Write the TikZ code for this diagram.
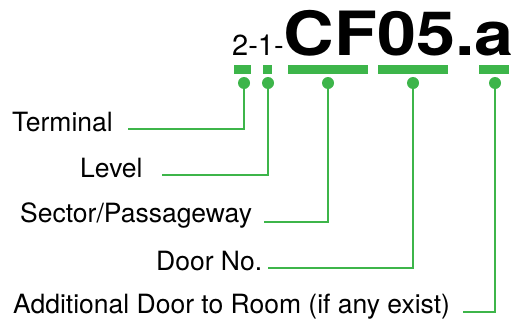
\documentclass[tikz,border=0pt]{standalone}
\usepackage{fontspec}
\setmainfont{TeX Gyre Heros}
\definecolor{tagGreen}{RGB}{61,181,74}
\begin{document}
\begin{tikzpicture}[x=1pt,y=-1pt]

    \tikzset{
      label/.style={
        anchor=base west,
        inner sep=0pt,
        font=\fontsize{26.5}{31}\selectfont,
      },
      bar/.style={
        fill=tagGreen,
        inner sep=0pt,
        minimum height=9pt,
      },
      pin/.style={
        circle,
        fill=tagGreen,
        inner sep=0pt,
        minimum size=12pt,
      },
      wire/.style={
        draw=tagGreen,
        line width=2pt,
      },
    }
    \useasboundingbox (0,0) rectangle (513,324);

	\node[anchor=base west, inner sep=0pt] (code) at (232,55)
	  {{\fontsize{29}{34}\selectfont 2-1-}{\fontsize{61}{70}\selectfont\bfseries\scalebox{1.15}[1]{CF05.a}}};

	\node[bar, minimum width=17pt] (barT) at (242.5,69.5) {};
	\node[bar, minimum width=9pt] (barL) at (267.5,69.5) {};
	\node[bar, minimum width=80pt] (barS) at (328,69.5) {};
	\node[bar, minimum width=70pt] (barD) at (413,69.5) {};
	\node[bar, minimum width=30pt] (barA) at (494,69.5) {};

	\node[pin] (pinT) at (244,83) {};
	\node[pin] (pinL) at (268,83) {};
	\node[pin] (pinS) at (328,83) {};
	\node[pin] (pinD) at (413,83) {};
	\node[pin] (pinA) at (495,83) {};

	\node[label] (terminal) at (12,131) {Terminal};
	\node[label] (level) at (80,177) {Level};
	\node[label] (sector) at (20,222) {Sector/Passageway};
	\node[label] (door) at (156,270) {Door No.};
	\node[label] (additional) at (13,313) {Additional Door to Room (if any exist)};

	\coordinate (endT) at (128,129);
	\coordinate (endL) at (162,175);
	\coordinate (endS) at (264,222);
	\coordinate (endD) at (268,268);
	\coordinate (endA) at (463,312);

	\draw[wire] (pinT) |- (endT);
	\draw[wire] (pinL) |- (endL);
	\draw[wire] (pinS) |- (endS);
	\draw[wire] (pinD) |- (endD);
	\draw[wire] (pinA) |- (endA);

\end{tikzpicture}
\end{document}
